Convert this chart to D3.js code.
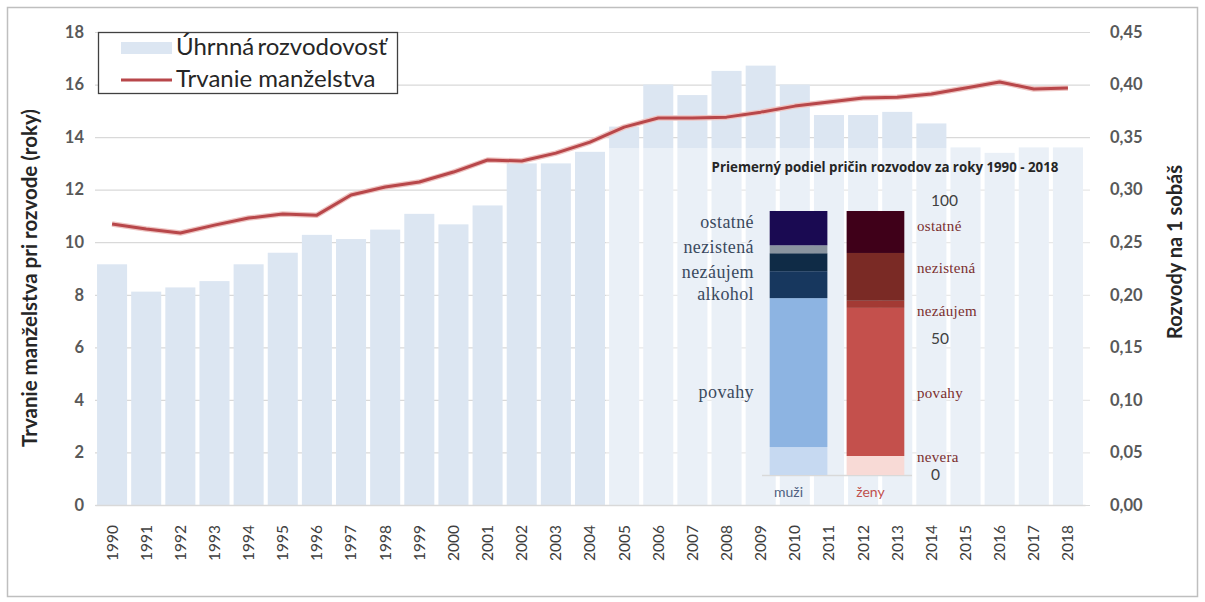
<!DOCTYPE html>
<html><head><meta charset="utf-8">
<script src="https://cdn.jsdelivr.net/npm/d3@7"></script>
<style>body{margin:0;background:#fff}svg{display:block}</style>
</head><body><svg id="c" width="1205" height="602"></svg>
<script>
const years = [1990,1991,1992,1993,1994,1995,1996,1997,1998,1999,2000,2001,2002,2003,2004,2005,2006,2007,2008,2009,2010,2011,2012,2013,2014,2015,2016,2017,2018];
const divorceRate = [0.229,0.203,0.207,0.213,0.229,0.240,0.257,0.253,0.262,0.277,0.267,0.285,0.325,0.325,0.336,0.360,0.400,0.390,0.413,0.418,0.400,0.371,0.371,0.374,0.363,0.340,0.335,0.340,0.340];
const marriageDuration = [10.69,10.50,10.35,10.65,10.92,11.07,11.03,11.80,12.10,12.29,12.67,13.13,13.09,13.39,13.81,14.38,14.73,14.73,14.76,14.95,15.18,15.34,15.49,15.52,15.64,15.87,16.10,15.83,15.87];
const leftTicks = [0,2,4,6,8,10,12,14,16,18];
const rightTicks = [0,0.05,0.10,0.15,0.20,0.25,0.30,0.35,0.40,0.45];
const causes = ["nevera","povahy","alkohol","nezáujem","nezistená","ostatné"];
const menShares = [10.6,56.4,10.2,6.8,3.0,13.0];
const womenShares = [7.2,56.1,0,2.7,18.1,15.9];
const insetTicks = [0,50,100];
const sexes = ["muži","ženy"];
const menLabels = ["povahy","alkohol","nezáujem","nezistená","ostatné"];
const womenLabels = ["nevera","povahy","nezáujem","nezistená","ostatné"];

const svg = d3.select("#c");
const FONT = "Lato, 'Open Sans', sans-serif";
const SERIF = "'Liberation Serif', 'DejaVu Serif', serif";
svg.append("rect").attr("width",1205).attr("height",602).attr("fill","#fff");
svg.append("rect").attr("x",7.5).attr("y",7.5).attr("width",1190).attr("height",589).attr("fill","none").attr("stroke","#bfbfbf").attr("stroke-width",1.5);

const x = d3.scaleBand().domain(years).range([95,1085]).paddingInner(0.12).paddingOuter(0.06);
const yL = d3.scaleLinear().domain([0,18]).range([505,32]);
const yR = d3.scaleLinear().domain([0,0.45]).range([505,32]);

// gridlines
svg.append("g").selectAll("line").data(leftTicks).join("line")
  .attr("x1",95).attr("x2",1090).attr("y1",d=>yL(d)+0.5).attr("y2",d=>yL(d)+0.5)
  .attr("stroke","#d9d9d9").attr("stroke-width",1.2);

// bars
svg.append("g").selectAll("rect").data(years).join("rect")
  .attr("x",d=>x(d)).attr("width",x.bandwidth())
  .attr("y",(d,i)=>yR(divorceRate[i])).attr("height",(d,i)=>yR(0)-yR(divorceRate[i]))
  .attr("fill","#dce6f2");

// inset background (semi-transparent)
svg.append("rect").attr("x",606).attr("y",148).attr("width",484).attr("height",357)
  .attr("fill","#ffffff").attr("opacity",0.4);

// left axis labels
const gL = svg.append("g").attr("transform","translate(84,0)").call(d3.axisLeft(yL).tickValues(leftTicks).tickSize(0).tickPadding(0).tickFormat(d3.format("d")));
gL.select(".domain").remove();
gL.selectAll("text").attr("font-family",FONT).attr("font-size",16.5).attr("fill","#595959").attr("font-weight","bold");

// right axis labels
const fmtR = d=>d3.format(".2f")(d).replace(".",",");
const gR = svg.append("g").attr("transform","translate(1110,0)").call(d3.axisRight(yR).tickValues(rightTicks).tickSize(0).tickPadding(0).tickFormat(fmtR));
gR.select(".domain").remove();
gR.selectAll("text").attr("font-family",FONT).attr("font-size",16.5).attr("fill","#595959").attr("font-weight","bold");

// bottom axis
const gB = svg.append("g").attr("transform","translate(0,505)").call(d3.axisBottom(x).tickSize(0).tickPadding(0));
gB.select(".domain").attr("stroke","#d9d9d9").attr("stroke-width",1.5);
gB.selectAll("text").attr("font-family",FONT).attr("font-size",15.5).attr("fill","#404040")
  .attr("text-anchor","end").attr("transform","translate(0,20) rotate(-90)").attr("dy","0.35em").attr("dx","0").attr("y",0);

// axis titles
svg.append("text").attr("transform","translate(37,278) rotate(-90)").attr("text-anchor","middle")
  .attr("font-family",FONT).attr("font-weight","bold").attr("font-size",20.5).attr("fill","#262626")
  .text("Trvanie manželstva pri rozvode (roky)");
svg.append("text").attr("transform","translate(1182,252) rotate(-90)").attr("text-anchor","middle")
  .attr("font-family",FONT).attr("font-weight","bold").attr("font-size",20).attr("fill","#262626")
  .text("Rozvody na 1 sobáš");

// line
const line = d3.line().x((d,i)=>x(years[i])+x.bandwidth()/2).y(d=>yL(d));
svg.append("path").datum(marriageDuration).attr("d",line).attr("fill","none").attr("stroke","#eec4c2").attr("stroke-width",5.5).attr("stroke-linejoin","round");
svg.append("path").datum(marriageDuration).attr("d",line).attr("fill","none").attr("stroke","#b8474a").attr("stroke-width",3).attr("stroke-linejoin","round");

// legend
const lg = svg.append("g");
lg.append("rect").attr("x",98.5).attr("y",32.5).attr("width",299).attr("height",61).attr("fill","#fff").attr("stroke","#404040").attr("stroke-width",1.3);
lg.append("rect").attr("x",121).attr("y",42).attr("width",51).attr("height",12).attr("fill","#dce6f2");
lg.append("line").attr("x1",121).attr("x2",172).attr("y1",80).attr("y2",80).attr("stroke","#b8474a").attr("stroke-width",3);
lg.append("text").attr("x",176).attr("y",47).attr("dy","0.35em").attr("font-family",FONT).attr("font-size",24).attr("fill","#262626").attr("word-spacing","-3").text("Úhrnná rozvodovosť");
lg.append("text").attr("x",176).attr("y",79).attr("dy","0.35em").attr("font-family",FONT).attr("font-size",24).attr("fill","#262626").text("Trvanie manželstva");

// inset chart
const ins = svg.append("g");
ins.append("text").attr("x",885).attr("y",167).attr("dy","0.35em").attr("text-anchor","middle")
  .attr("font-family","'Open Sans', sans-serif").attr("font-weight","bold").attr("font-size",13.3).attr("fill","#262626")
  .text("Priemerný podiel pričin rozvodov za roky 1990 - 2018");
const xi = d3.scaleBand().domain(sexes).range([762,912]).paddingInner(0.25).paddingOuter(0.1);
const yi = d3.scaleLinear().domain([0,100]).range([475,211]);
const menColors = ["#c6d9f1","#8db4e2","#17375e","#0f2b46","#8a949f","#1a0a52"];
const womenColors = ["#f8dad6","#c4504c","#c4504c","#a33a34","#7a2a25","#3f0019"];
function stackSeg(vals){ let c=0; return vals.map(v=>{const s={y0:c,y1:c+v}; c+=v; return s;}); }
const menSeg = stackSeg(menShares), womenSeg = stackSeg(womenShares);
ins.append("line").attr("x1",762).attr("x2",912).attr("y1",475.5).attr("y2",475.5).attr("stroke","#d9d9d9").attr("stroke-width",1.5);
ins.append("g").selectAll("rect").data(menSeg).join("rect")
  .attr("x",xi("muži")).attr("width",xi.bandwidth()).attr("y",d=>yi(d.y1)).attr("height",d=>yi(d.y0)-yi(d.y1)).attr("fill",(d,i)=>menColors[i]);
ins.append("g").selectAll("rect").data(womenSeg).join("rect")
  .attr("x",xi("ženy")).attr("width",xi.bandwidth()).attr("y",d=>yi(d.y1)).attr("height",d=>yi(d.y0)-yi(d.y1)).attr("fill",(d,i)=>womenColors[i]);

// inset ticks
const tickNudge = {0:0,50:-4,100:-10};
ins.append("g").selectAll("text").data(insetTicks).join("text")
  .attr("x",931).attr("y",d=>yi(d)+tickNudge[d]).attr("dy","0.35em")
  .attr("font-family",FONT).attr("font-size",15.5).attr("fill","#404040").text(d=>d);

// inset category labels (positions along the 0-100 scale)
const menLabelPos = [31.4,68.6,76.9,86.4,95.8];
const womenLabelPos = [6.8,31.1,62.1,78.4,94.3];
ins.append("g").selectAll("text").data(menLabels).join("text")
  .attr("x",754).attr("y",(d,i)=>yi(menLabelPos[i])).attr("dy","0.35em").attr("text-anchor","end")
  .attr("font-family",SERIF).attr("font-size",18).attr("letter-spacing","0.4").attr("fill","#3b4a5e").text(d=>d);
ins.append("g").selectAll("text").data(womenLabels).join("text")
  .attr("x",917).attr("y",(d,i)=>yi(womenLabelPos[i])).attr("dy","0.35em").attr("text-anchor","start")
  .attr("font-family",SERIF).attr("font-size",15).attr("letter-spacing","0.3").attr("fill","#7a2e2e").text(d=>d);

// inset x labels
ins.append("g").selectAll("text").data(sexes).join("text")
  .attr("x",d=>xi(d)+xi.bandwidth()/2-(d==="muži"?10:5)).attr("y",492).attr("dy","0.35em").attr("text-anchor","middle")
  .attr("font-family",FONT).attr("font-size",14).attr("fill",d=>d==="muži"?"#4f5f80":"#c0504d").text(d=>d);
</script></body></html>
